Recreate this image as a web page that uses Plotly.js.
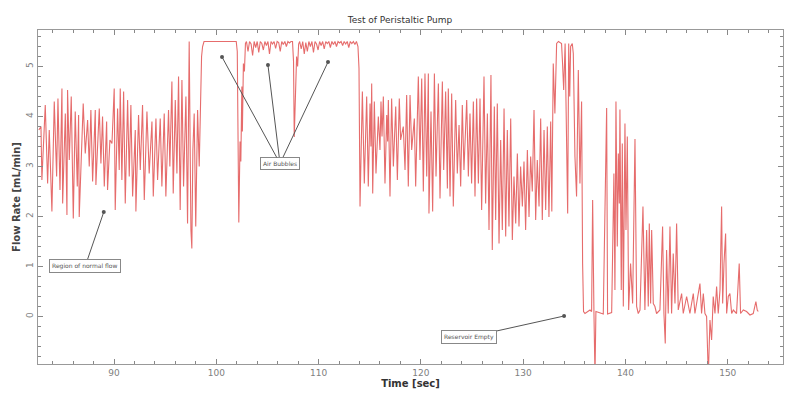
<!DOCTYPE html>
<html>
<head>
<meta charset="utf-8">
<script src="https://cdn.plot.ly/plotly-3.0.1.min.js"></script>
<style>html,body{margin:0;padding:0;background:#fff;}#chart{width:800px;height:405px;}</style>
</head>
<body>
<div id="chart"></div>
<script>
// Normal flow region
var tA = [82.65,82.86,82.95,83.28,83.51,83.67,83.93,84.16,84.39,84.52,84.72,84.91,84.98,85.24,85.40,85.46,85.63,85.82,86.02,86.21,86.41,86.54,86.60,86.99,87.19,87.42,87.58,87.74,87.91,88.17,88.23,88.56,88.72,88.88,89.05,89.28,89.37,89.60,89.80,90.02,90.12,90.35,90.51,90.61,90.77,90.94,91.10,91.33,91.49,91.65,91.82,92.08,92.14,92.40,92.57,92.79,92.96,93.22,93.44,93.71,93.84,94.10,94.26,94.52,94.68,94.91,95.07,95.33,95.46,95.66,95.79,95.99,96.15,96.31,96.47,96.64,96.80,97.03,97.19,97.35,97.52,97.61,97.71,97.84,97.99,98.17,98.33];
var fA = [3.73,3.80,2.73,4.23,2.66,3.73,2.10,4.30,2.80,4.36,2.53,4.56,2.26,4.06,2.03,4.53,3.13,4.40,1.96,4.10,2.60,4.03,1.99,4.26,3.26,3.93,3.00,4.13,2.70,4.13,2.63,4.16,3.06,4.00,2.60,3.90,2.53,3.53,3.46,4.56,2.13,4.16,2.93,4.56,2.73,4.50,2.26,4.33,2.80,4.23,2.40,3.73,2.10,4.03,2.93,4.23,2.33,4.10,2.86,3.90,2.40,3.96,2.73,3.96,2.60,4.06,2.40,4.13,3.00,4.70,2.46,4.33,2.86,4.80,2.13,4.73,2.60,4.40,1.86,5.50,1.73,1.36,3.33,4.06,1.80,4.13,3.00];

// Air bubble region
var tB = [98.50,98.56,98.66,98.80,101.95,102.05,102.20,102.32,102.40,102.50,102.55,102.65,102.75,102.85,
  102.95,103.10,103.25,103.40,103.55,103.70,103.85,104.00,104.15,104.30,104.45,104.60,104.75,104.90,105.05,105.20,105.35,105.50,105.65,105.80,105.95,106.10,106.25,106.40,106.55,106.70,106.85,107.00,107.15,107.30,107.45,
  107.55,107.62,107.72,107.85,107.95,108.05,
  108.15,108.30,108.45,108.60,108.75,108.90,109.05,109.20,109.35,109.50,109.65,109.80,109.95,110.10,110.25,110.40,110.55,110.70,110.85,111.00,111.15,111.30,111.45,111.60,111.75,111.90,112.05,112.20,112.35,112.50,112.65,112.80,112.95,113.10,113.25,113.40,113.55,113.70,113.85];
var fB = [4.90,5.20,5.40,5.50,5.50,5.30,1.88,3.50,3.10,4.60,3.70,5.06,4.90,5.46,
  5.50,5.30,5.50,5.45,5.22,5.50,5.38,5.50,5.28,5.50,5.46,5.33,5.50,5.42,5.50,5.25,5.50,5.45,5.50,5.36,5.50,5.48,5.30,5.50,5.44,5.50,5.40,5.50,5.47,5.50,5.50,
  5.10,3.59,4.40,5.20,5.00,5.45,
  5.50,5.35,5.50,5.25,5.48,5.30,5.50,5.40,5.50,5.28,5.50,5.45,5.33,5.50,5.42,5.50,5.35,5.50,5.46,5.50,5.38,5.50,5.44,5.50,5.40,5.50,5.47,5.50,5.42,5.50,5.45,5.50,5.38,5.50,5.46,5.50,5.44,5.50,5.40];

// Flow resumes
var tC = [113.95,114.05,114.28,114.47,114.70,114.86,115.03,115.12,115.19,115.29,115.45,115.61,115.84,116.00,116.10,116.20,116.33,116.49,116.66,116.75,116.82,116.98,117.14,117.31,117.54,117.70,117.89,118.02,118.28,118.45,118.61,118.77,118.94,119.10,119.36,119.49,119.75,119.91,120.08,120.24,120.40,120.57,120.73,120.79,120.99,121.15,121.32,121.48,121.71,121.87,122.10,122.23,122.42,122.59,122.68,122.85,123.01,123.17,123.40,123.56,123.73,123.89,124.05,124.21,124.48,124.64,124.80,124.96,125.13,125.29,125.45,125.62,125.78,125.94,126.17,126.33,126.50,126.66,126.85,126.98,127.18,127.31,127.47,127.64,127.80,127.96,128.13,128.29,128.45,128.61,128.78,128.94,129.10,129.27,129.43,129.59,129.75,129.92,130.08,130.24,130.41,130.57,130.73,130.89,131.06,131.22,131.38,131.55,131.71,131.87,132.04,132.20,132.36,132.52,132.69,132.80,132.94,133.10,133.27,133.45,133.75,133.85,133.96,134.10,134.20,134.35,134.45,134.55,134.64,134.80,134.90,135.06,135.22,135.39,135.55,135.71,135.81];
var fC = [4.96,2.20,4.50,2.66,4.40,2.60,4.26,3.40,4.66,2.46,4.30,2.86,4.00,3.33,4.30,3.60,4.40,2.66,4.03,3.50,4.33,2.40,4.36,3.00,4.20,2.73,4.36,3.53,3.80,2.93,4.43,2.60,4.43,3.33,3.96,2.60,4.80,3.13,4.76,2.50,4.86,2.80,4.86,2.06,4.10,2.10,4.86,2.80,4.66,2.36,4.70,2.93,4.50,2.56,4.56,2.40,4.46,2.20,4.33,2.86,3.83,2.60,4.23,2.93,4.33,2.80,4.06,2.66,4.30,2.40,4.36,2.66,4.36,2.13,4.80,2.26,4.06,1.73,4.83,1.33,4.20,1.93,4.26,1.46,3.53,1.73,4.16,1.60,3.73,1.80,3.96,1.53,2.80,1.86,3.26,1.80,3.00,2.20,3.10,1.73,3.33,1.99,3.20,2.50,4.13,1.93,3.13,2.20,3.96,1.93,3.73,2.13,3.80,1.99,3.90,2.10,5.06,4.06,5.46,5.50,5.46,5.06,4.53,5.46,3.60,2.06,5.46,4.40,5.40,5.46,5.26,3.20,2.40,4.93,2.66,4.30,1.06];

// Reservoir empty region
var tD = [135.90,136.04,136.53,136.69,136.79,136.92,137.02,137.11,137.34,137.83,138.16,138.25,138.65,138.87,138.97,139.07,139.20,139.30,139.40,139.46,139.59,139.69,139.79,139.95,140.05,140.18,140.31,140.50,140.70,140.93,141.09,141.25,141.42,141.71,141.90,142.07,142.23,142.33,142.46,142.56,142.72,142.88,143.04,143.37,143.63,143.76,143.89,144.02,144.18,144.35,144.51,144.67,144.84,145.00,145.16,145.49,145.65,145.98,146.30,146.63,146.79,147.12,147.28,147.44,147.61,147.77,147.93,148.10,148.26,148.42,148.58,148.75,148.91,149.07,149.24,149.40,149.50,149.63,149.79,149.89,150.05,150.21,150.38,150.54,150.86,151.12,151.25,151.52,151.84,152.17,152.49,152.75,152.88,152.98];
var fD = [0.10,0.06,0.13,0.10,2.33,0.06,-1.20,0.10,0.08,0.05,4.17,0.05,0.08,2.86,0.53,4.30,1.40,3.26,2.26,4.14,0.53,3.46,0.20,3.86,1.73,3.60,0.13,1.06,0.26,3.55,0.20,0.06,0.13,2.20,0.13,1.73,0.20,1.86,0.26,1.73,0.26,0.20,0.06,0.13,1.80,0.06,-0.54,1.33,0.06,1.80,0.06,1.26,0.26,1.86,0.13,0.46,0.06,0.40,0.06,0.46,0.06,0.46,0.66,0.06,0.46,0.06,0.00,-1.20,-0.07,-0.47,0.40,0.06,0.60,0.06,0.53,2.20,0.26,1.06,1.66,0.06,0.40,0.46,0.06,0.13,0.06,1.06,0.06,0.13,0.10,0.03,0.06,0.30,0.13,0.10];

var chartTitle = 'Test of Peristaltic Pump';
var xTitle = 'Time [sec]';
var yTitle = 'Flow Rate [mL/min]';
var noteText = ['Air Bubbles', 'Region of normal flow', 'Reservoir Empty'];
var bubblePoints = [[100.56, 5.19], [105.05, 5.03], [110.92, 5.09]];
var bubbleBox = [106.23, 3.06];
var normalPoint = [89.0, 2.09], normalBox = [87.21, 1.02];
var emptyPoint = [134.0, 0.01], emptyBox = [124.75, -0.41];

var time = tA.concat(tB, tC, tD);
var flow = fA.concat(fB, fC, fD);

var trace = {
  x: time, y: flow, type: 'scatter', mode: 'lines',
  line: {color: 'rgb(230,108,108)', width: 1.1},
  hoverinfo: 'skip'
};

var font = {family: 'DejaVu Sans, Verdana, sans-serif', size: 9, color: '#808080'};
var arrowBase = {
  xref: 'x', yref: 'y', axref: 'x', ayref: 'y',
  showarrow: true, arrowhead: 6, arrowsize: 1, arrowwidth: 1, arrowcolor: '#555',
  font: {family: 'DejaVu Sans, sans-serif', size: 6, color: '#555'},
  bordercolor: '#888', borderwidth: 1, borderpad: 2, bgcolor: '#fff'
};
function ann(text, pt, box, hidden) {
  var a = Object.assign({}, arrowBase, {text: text, x: pt[0], y: pt[1], ax: box[0], ay: box[1]});
  if (hidden) {
    a.font = Object.assign({}, arrowBase.font, {color: 'rgba(0,0,0,0)'});
    a.bordercolor = 'rgba(0,0,0,0)';
    a.bgcolor = 'rgba(0,0,0,0)';
  }
  return a;
}
var annotations = [
  ann(noteText[0], bubblePoints[1], bubbleBox, true),
  ann(noteText[0], bubblePoints[2], bubbleBox, true),
  ann(noteText[0], bubblePoints[0], bubbleBox, false),
  ann(noteText[1], normalPoint, normalBox, false),
  ann(noteText[2], emptyPoint, emptyBox, false)
];

var axisCommon = {
  ticks: 'inside', ticklen: 5, tickcolor: '#888', tickwidth: 1,
  showline: true, linecolor: '#999', linewidth: 1, mirror: 'ticks',
  showgrid: false, zeroline: false, tickfont: font
};

var layout = {
  width: 800, height: 405,
  margin: {l: 38, r: 17, t: 30, b: 41},
  paper_bgcolor: '#fff', plot_bgcolor: '#fff',
  showlegend: false,
  title: {text: chartTitle, x: 0.5, xanchor: 'center', y: 1 - 20/405, yanchor: 'middle',
          font: {family: 'DejaVu Sans, sans-serif', size: 9, color: '#333'}},
  xaxis: Object.assign({}, axisCommon, {
    range: [82.57, 155.4], tick0: 0, dtick: 10,
    minor: {dtick: 2, ticks: 'inside', ticklen: 3, tickcolor: '#888', showgrid: false},
    title: {text: '<b>' + xTitle + '</b>', standoff: 3, font: {family: 'DejaVu Sans, sans-serif', size: 10, color: '#333'}}
  }),
  yaxis: Object.assign({}, axisCommon, {
    range: [-0.95, 5.73], tick0: 0, dtick: 1, tickangle: -90,
    minor: {dtick: 0.2, ticks: 'inside', ticklen: 3, tickcolor: '#888', showgrid: false},
    title: {text: '<b>' + yTitle + '</b>', standoff: 2, font: {family: 'DejaVu Sans, sans-serif', size: 10, color: '#444'}}
  }),
  annotations: annotations
};

Plotly.newPlot('chart', [trace], layout, {staticPlot: true, displayModeBar: false});
</script>
</body>
</html>
